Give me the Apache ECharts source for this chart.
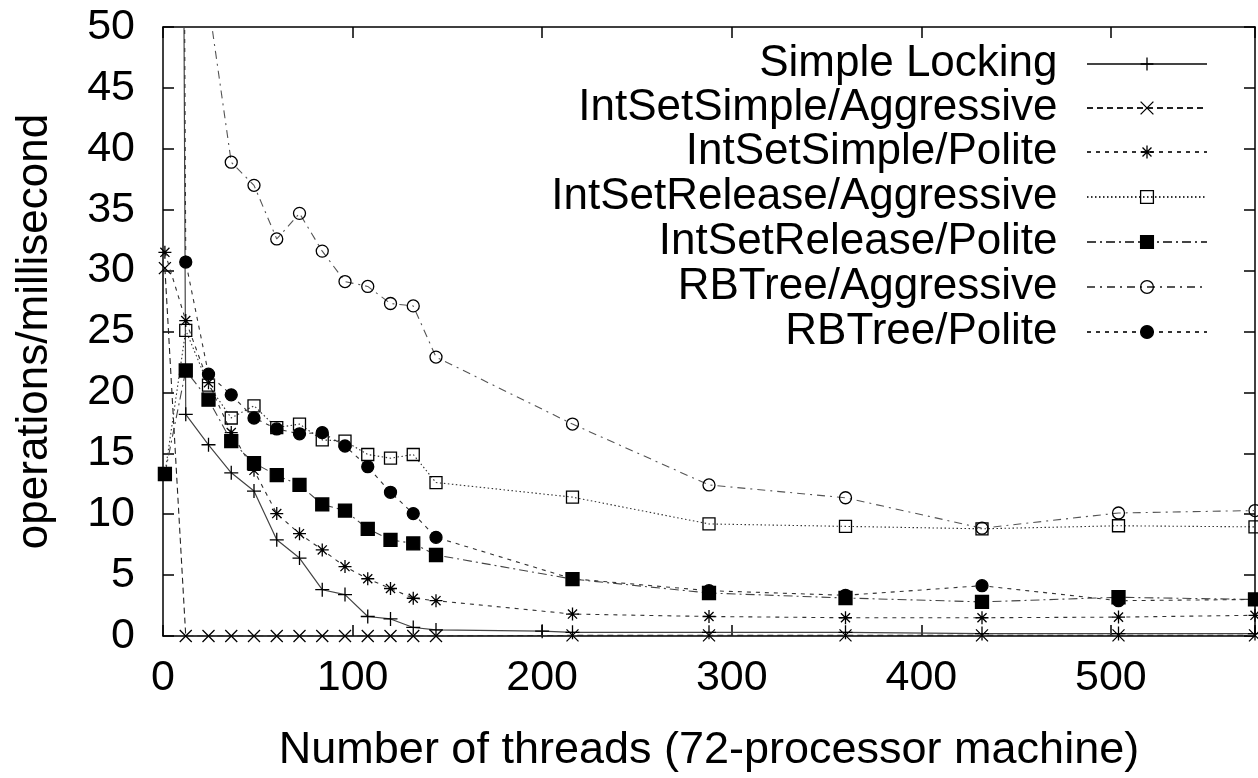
<!DOCTYPE html>
<html><head><meta charset="utf-8">
<script src="https://cdn.jsdelivr.net/npm/echarts@6/dist/echarts.min.js"></script>
<style>html,body{margin:0;padding:0;background:#fff;}#c{width:1258px;height:778px;}</style>
</head><body><div id="c"></div>
<script>
// ---- data ----
const seriesNames = ['Simple Locking','IntSetSimple/Aggressive','IntSetSimple/Polite','IntSetRelease/Aggressive','IntSetRelease/Polite','RBTree/Aggressive','RBTree/Polite'];
const threadsAll = [1,12,24,36,48,60,72,84,96,108,120,132,144,216,288,360,432,504,576];
const threadsLocking = [1,12,24,36,48,60,72,84,96,108,120,132,144,200,216,288,360,432,504,576];
const simpleLocking = [400,18.2,15.7,13.4,11.9,7.9,6.4,3.8,3.4,1.6,1.4,0.7,0.5,0.4,0.3,0.3,0.3,0.2,0.2,0.2];
const intSetSimpleAggressive = [30.2,0,0,0,0,0,0,0,0,0,0,0,0,0.05,0.05,0.05,0.05,0.05,0.05];
const intSetSimplePolite = [31.5,25.9,20.8,16.7,13.6,10.05,8.4,7.07,5.7,4.7,3.9,3.1,2.9,1.8,1.6,1.5,1.5,1.55,1.7];
const intSetReleaseAggressive = [13.3,25.1,20.6,17.9,18.9,17.1,17.4,16.1,16.0,14.9,14.6,14.9,12.6,11.4,9.2,9.0,8.8,9.05,8.96];
const intSetReleasePolite = [13.3,21.8,19.4,16.0,14.2,13.2,12.4,10.8,10.3,8.8,7.9,7.6,6.65,4.67,3.53,3.12,2.8,3.18,3.0];
const rbTreeAggressive = [60,164,52,38.9,37.0,32.6,34.7,31.6,29.1,28.7,27.3,27.1,22.9,17.4,12.4,11.35,8.85,10.1,10.3];
const rbTreePolite = [400,30.7,21.5,19.8,17.9,17.0,16.6,16.7,15.6,13.9,11.8,10.05,8.1,4.7,3.72,3.34,4.13,2.9,3.0];
const xTicks = [0,100,200,300,400,500];
const yTicks = [0,5,10,15,20,25,30,35,40,45,50];

// ---- styles ----
const FONT = "'Liberation Sans', Arial, sans-serif";
const symPlus = 'path://M5,0L5,10M0,5L10,5';
const symCross = 'path://M0,0L10,10M10,0L0,10';
const symStar = 'path://M5,0L5,10M0,5L10,5M1.5,1.5L8.5,8.5M8.5,1.5L1.5,8.5';
const styles = [
  {sym: symPlus, size: 14, fill: 'transparent', line: {color:'#444', width:1.2, type:'solid'}},
  {sym: symCross, size: 12, fill: 'transparent', line: {color:'#222', width:1.1, type:[6,4]}},
  {sym: symStar, size: 13, fill: 'transparent', line: {color:'#333', width:1.1, type:[4,5]}},
  {sym: 'rect', size: 12, fill: 'transparent', line: {color:'#333', width:1.1, type:[1.5,2.5]}},
  {sym: 'rect', size: 13, fill: '#000', line: {color:'#444', width:1.1, type:[9,4,2,4]}},
  {sym: 'circle', size: 12, fill: 'transparent', line: {color:'#555', width:1.1, type:[8,5,2,5]}},
  {sym: 'circle', size: 12, fill: '#000', line: {color:'#333', width:1.1, type:[4,5]}}
];
const xs = [threadsLocking, threadsAll, threadsAll, threadsAll, threadsAll, threadsAll, threadsAll];
const ys = [simpleLocking, intSetSimpleAggressive, intSetSimplePolite, intSetReleaseAggressive, intSetReleasePolite, rbTreeAggressive, rbTreePolite];

const series = seriesNames.map((name, i) => ({
  name, type: 'line',
  data: xs[i].map((x, k) => [x, ys[i][k]]),
  symbol: styles[i].sym, symbolSize: styles[i].size, showAllSymbol: true,
  clip: true,
  lineStyle: styles[i].line,
  itemStyle: {color: styles[i].fill, borderColor: '#000', borderWidth: 1.3},
  emphasis: {disabled: true},
  z: 2 + i
}));

const legendRows = [62,106,150,195,240,285,330];
const legends = seriesNames.map((name, i) => ({
  data: [name], orient: 'horizontal', align: 'right',
  right: 50, top: legendRows[i] - 20, padding: 0,
  itemWidth: 120, itemHeight: 16, selectedMode: false,
  formatter: n => n + '\u00a0\u00a0',
  textStyle: {fontSize: 44, color: '#000', fontFamily: FONT},
  itemStyle: {borderWidth: 1.3}
}));

const axisLineStyle = {color: '#000', width: 1.5};
const chart = echarts.init(document.getElementById('c'), null, {renderer: 'canvas'});
chart.setOption({
  animation: false,
  backgroundColor: '#fff',
  textStyle: {fontFamily: FONT},
  grid: {left: 163, top: 27, width: 1098, height: 613, containLabel: false},
  legend: legends,
  xAxis: [{
    type: 'value', min: 0, max: 576, interval: 100, position: 'bottom',
    axisLine: {show: true, onZero: false, lineStyle: axisLineStyle},
    axisTick: {show: true, inside: true, length: 11, lineStyle: axisLineStyle},
    splitLine: {show: false},
    axisLabel: {fontSize: 43, color: '#000', margin: 21, fontFamily: FONT,
      formatter: v => xTicks.includes(v) ? String(v) : ''},
    name: 'Number of threads (72-processor machine)', nameLocation: 'middle', nameGap: 92,
    nameTextStyle: {fontSize: 45, color: '#000', fontFamily: FONT}
  }, {
    type: 'value', min: 0, max: 576, interval: 100, position: 'top',
    axisLine: {show: true, onZero: false, lineStyle: axisLineStyle},
    axisTick: {show: true, inside: true, length: 11, lineStyle: axisLineStyle},
    splitLine: {show: false}, axisLabel: {show: false}
  }],
  yAxis: [{
    type: 'value', min: 0, max: 50, interval: 5, position: 'left',
    axisLine: {show: true, onZero: false, lineStyle: axisLineStyle},
    axisTick: {show: true, inside: true, length: 11, lineStyle: axisLineStyle},
    splitLine: {show: false},
    axisLabel: {fontSize: 43, color: '#000', margin: 28, fontFamily: FONT,
      formatter: v => yTicks.includes(v) ? String(v) : ''},
    name: 'operations/millisecond', nameLocation: 'middle', nameGap: 106, nameRotate: 90,
    nameTextStyle: {fontSize: 44, color: '#000', fontFamily: FONT}
  }, {
    type: 'value', min: 0, max: 50, interval: 5, position: 'right',
    axisLine: {show: true, onZero: false, lineStyle: axisLineStyle},
    axisTick: {show: true, inside: true, length: 11, lineStyle: axisLineStyle},
    splitLine: {show: false}, axisLabel: {show: false}
  }],
  series
});
</script></body></html>
